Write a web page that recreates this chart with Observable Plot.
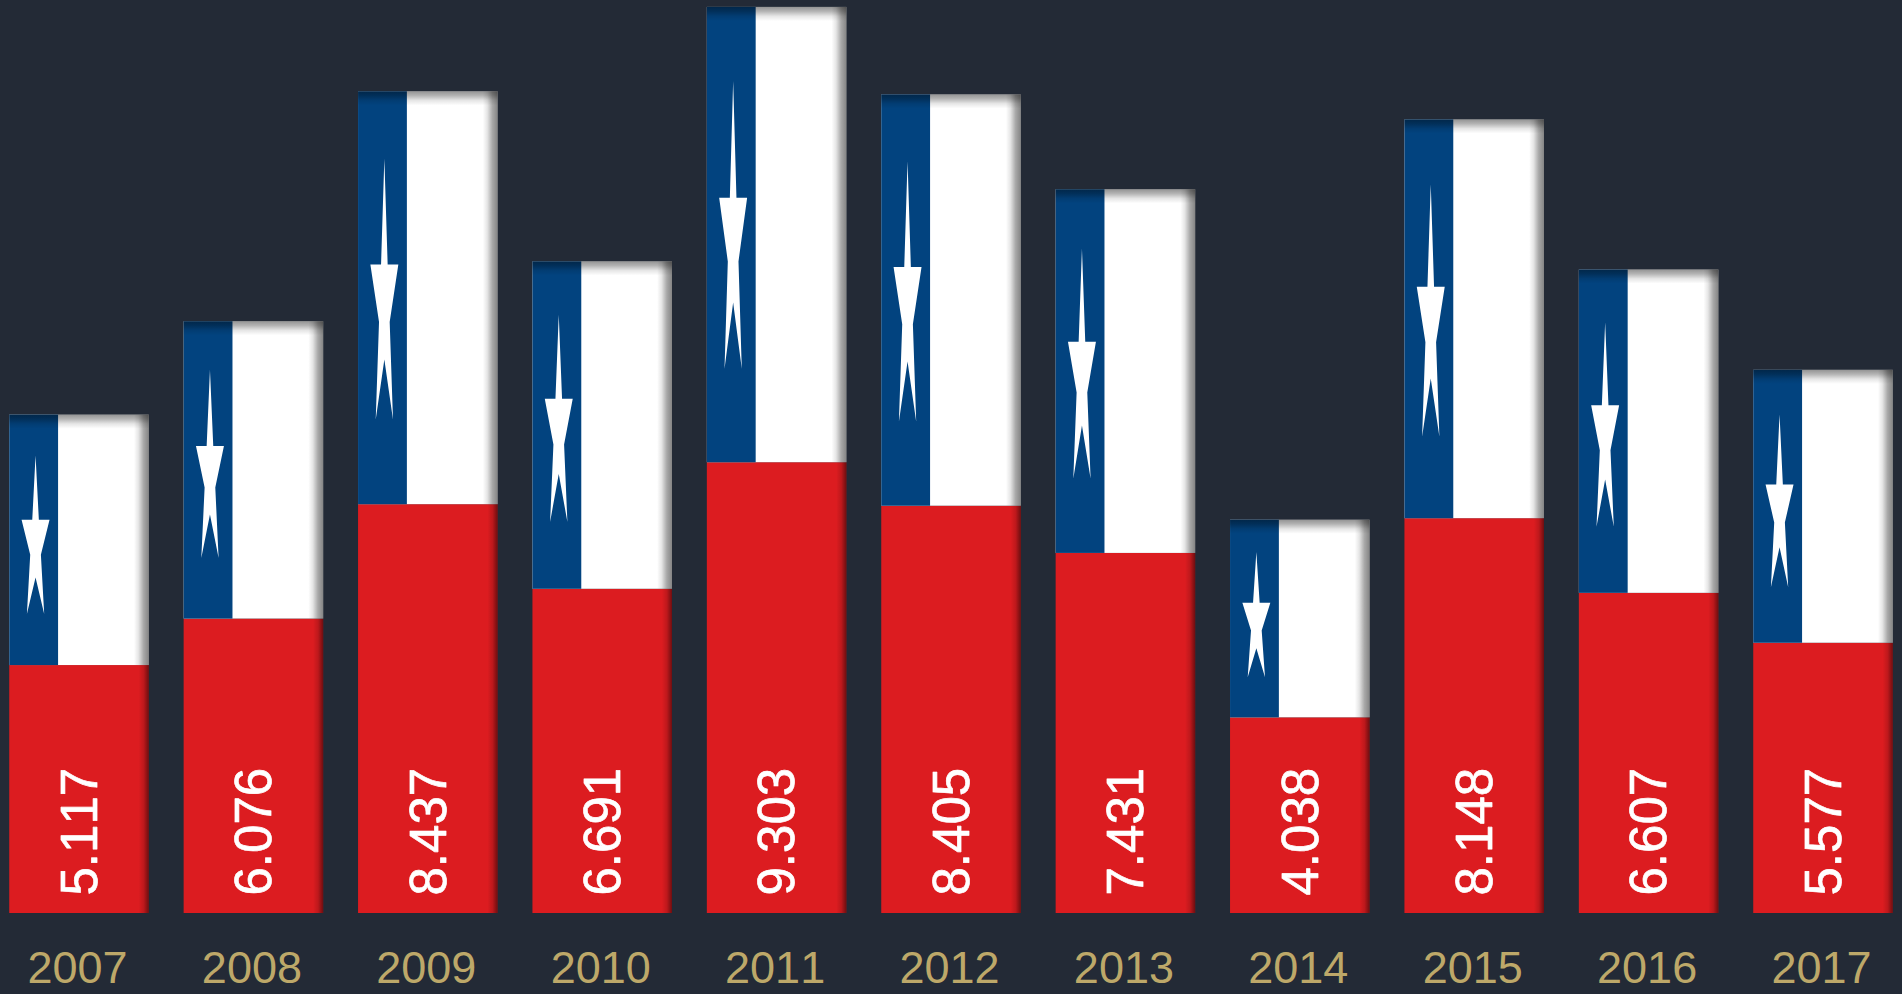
<!DOCTYPE html>
<html><head><meta charset="utf-8">
<style>html,body{margin:0;padding:0;background:#232a36;overflow:hidden}svg{display:block}text{font-kerning:none}</style>
<script src="https://cdn.jsdelivr.net/npm/d3@7"></script>
<script src="https://cdn.jsdelivr.net/npm/@observablehq/plot@0.6"></script>
</head><body><div id="chart"></div>
<script>
const years = [2007,2008,2009,2010,2011,2012,2013,2014,2015,2016,2017];
const values = [5117,6076,8437,6691,9303,8405,7431,4038,8148,6607,5577];
const unitStar = [[0,-1.04],[0.2245,-0.29],[0.951,-0.29],[0.363,0.118],[0.588,0.809],[0,0.382],[-0.588,0.809],[-0.363,0.118],[-0.951,-0.29],[-0.2245,-0.29]];
const rows = years.map((year,i)=>({year,value:values[i]}));
const half = 0.4, cantonW = 0.28, split = 0.4975, starDx = -0.252, starRx = 0.0843, starCy = 0.74, starRy = 0.172;
const starPts = rows.flatMap(r => unitStar.map(([ux,uy]) => ({year:r.year, px:r.year+starDx+ux*starRx, py:r.value*(starCy-uy*starRy)})));
const fmt = d3.formatLocale({decimal:",",thousands:".",grouping:[3],currency:["",""]}).format(",");
const defs = () => d3.create("svg:defs").html(`
 <linearGradient id="sr" x1="0" x2="1" y1="0" y2="0"><stop offset="0" stop-color="#000" stop-opacity="0"/><stop offset=".3" stop-color="#000" stop-opacity=".1"/><stop offset=".65" stop-color="#000" stop-opacity=".34"/><stop offset="1" stop-color="#000" stop-opacity=".48"/></linearGradient>
 <linearGradient id="st" x1="0" x2="0" y1="1" y2="0"><stop offset="0" stop-color="#000" stop-opacity="0"/><stop offset=".35" stop-color="#000" stop-opacity=".1"/><stop offset=".7" stop-color="#000" stop-opacity=".3"/><stop offset="1" stop-color="#000" stop-opacity=".42"/></linearGradient>
 <linearGradient id="rr" x1="0" x2="1" y1="0" y2="0"><stop offset="0" stop-color="#000" stop-opacity="0"/><stop offset=".5" stop-color="#000" stop-opacity=".14"/><stop offset="1" stop-color="#000" stop-opacity=".5"/></linearGradient>`).node();
const chart = Plot.plot({
  width:1902, height:994, marginTop:0, marginLeft:0, marginRight:0, marginBottom:81,
  style:{background:"#232a36"},
  x:{domain:[2006.547,2017.453], axis:null},
  y:{domain:[0,9374], axis:null},
  marks:[
    defs,
    Plot.rect(rows,{x1:d=>d.year-half,x2:d=>d.year+half,y1:0,y2:d=>d.value*split,fill:"#dc1c20"}),
    Plot.rect(rows,{x1:d=>d.year-half,x2:d=>d.year+half,y1:d=>d.value*split,y2:"value",fill:"#ffffff"}),
    Plot.rect(rows,{x1:d=>d.year-half,x2:d=>d.year-half+cantonW,y1:d=>d.value*split,y2:"value",fill:"#02437f"}),
    Plot.line(starPts,{x:"px",y:"py",z:"year",fill:"#ffffff",stroke:"none",imageFilter:"blur(0.5px)"}),
    Plot.rect(rows,{x1:d=>d.year+half-0.085,x2:d=>d.year+half,y1:d=>d.value*split,y2:"value",fill:"url(#sr)"}),
    Plot.rect(rows,{x1:d=>d.year+half-0.058,x2:d=>d.year+half,y1:0,y2:d=>d.value*split,fill:"url(#rr)"}),
    Plot.rect(rows,{x1:d=>d.year-half,x2:d=>d.year+half,y1:d=>d.value-145,y2:"value",fill:"url(#st)"}),
    Plot.text(rows,{x:"year",y:0,dx:1,dy:-18,text:d=>fmt(d.value),rotate:-90,textAnchor:"start",fill:"#ffffff",stroke:"#ffffff",strokeWidth:0.7,fontSize:51,fontFamily:"Liberation Sans"}),
    Plot.axisX({ticks:years,tickFormat:d=>String(d),tickSize:0,tickPadding:38,dx:-2,fontSize:45,fontFamily:"Liberation Sans",fill:"#bda869",color:"#bda869",stroke:"#bda869",strokeWidth:0.6,label:null})
  ]
});
document.getElementById("chart").append(chart);
</script></body></html>
